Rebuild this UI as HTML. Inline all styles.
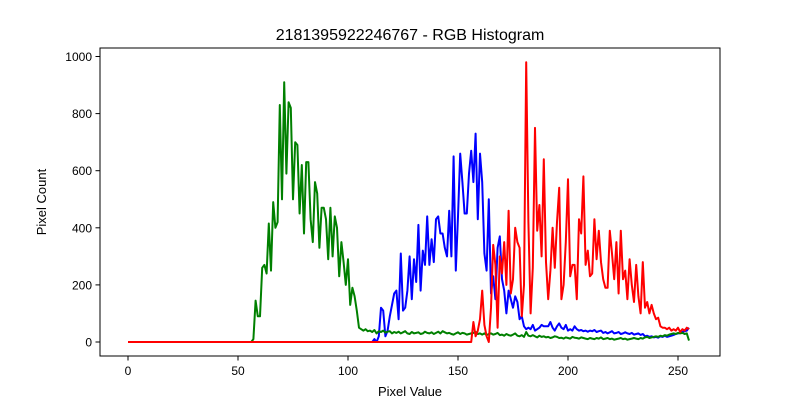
<!DOCTYPE html>
<html><head><meta charset="utf-8"><style>
body{margin:0;background:#fff}
svg{display:block;font-family:"Liberation Sans","DejaVu Sans",sans-serif}
</style></head><body>
<svg id="chart" width="800" height="400">
<rect width="800" height="400" fill="#fff"/>
<text x="410" y="40" text-anchor="middle" font-size="16">2181395922246767 - RGB Histogram</text>
<g id="plot"></g>
<rect x="100" y="48" width="620" height="308" fill="none" stroke="#000" stroke-width="1"/>
<text x="410" y="396" text-anchor="middle" font-size="13">Pixel Value</text>
<text x="46" y="202" text-anchor="middle" font-size="13" transform="rotate(-90 46 202)">Pixel Count</text>
</svg>
<script>
const xTicks=[0,50,100,150,200,250];
const yTicks=[0,200,400,600,800,1000];
const greenStart=57;
const greenVals=[10,145,90,90,260,270,240,415,250,490,400,420,830,500,910,590,840,820,500,700,690,450,620,380,630,630,430,350,560,520,330,470,470,430,290,470,300,440,400,230,350,280,200,290,130,190,160,110,50,45,40,45,38,40,
35,42,30,38,35,40,33,36,38,30,35,32,36,30,34,38,30,28,35,30,
32,34,28,30,36,32,30,34,28,32,36,30,38,34,30,32,28,26,30,34,
28,32,30,26,28,30,32,35,28,30,26,30,24,28,30,26,28,32,24,26,
22,28,24,22,26,30,22,20,24,18,35,22,20,24,20,16,22,18,20,16,
18,14,16,20,18,14,15,12,16,14,12,18,15,14,12,16,14,12,10,14,
12,10,14,12,16,10,12,14,10,12,8,10,12,14,10,12,8,10,12,14,
12,10,14,12,16,18,14,16,18,20,18,22,20,24,22,26,28,30,28,32,
30,32,28,30,5];
const blueStart=111;
const blueVals=[0,10,0,20,120,110,20,40,90,130,170,180,80,310,110,120,180,300,150,290,210,410,180,320,270,440,270,360,280,430,440,380,380,330,300,460,300,650,250,440,660,560,450,450,590,670,560,730,430,660,560,310,250,500,170,230,150,330,370,220,180,100,180,150,120,160,140,80,90,55,
45,50,45,60,40,45,50,60,55,55,55,70,50,40,55,65,50,45,60,40,
45,40,55,45,40,42,38,40,36,40,38,42,35,38,40,32,35,30,34,38,
30,32,35,28,30,34,30,28,32,26,28,30,25,28,20,22,18,20,16,18,
15,20,18,22,18,20,22,25,28,30,32,35,38,40,50];
const redStart=156;
const redVals=[0,70,20,40,80,180,60,20,0,120,340,270,50,300,240,350,200,460,170,220,400,350,330,90,200,980,420,100,260,750,390,480,300,640,280,150,250,400,260,420,540,150,200,350,570,230,270,270,150,430,380,580,270,320,230,240,430,290,390,280,220,190,190,390,310,220,350,170,390,220,250,150,290,200,140,270,160,100,280,120,140,100,130,100,80,85,55,50,50,45,50,40,45,40,50,35,45,40,50,45];
const X=v=>128+2.2*v, Y=c=>342-0.2855*c;
const svg=document.getElementById('plot');
const NS='http://www.w3.org/2000/svg';
function mk(t,a){const e=document.createElementNS(NS,t);for(const k in a)e.setAttribute(k,a[k]);svg.appendChild(e);return e;}
xTicks.forEach(t=>{
 const l=mk('line',{x1:X(t),x2:X(t),y1:356,y2:360.5,stroke:'#000'});
 
 
 const s=mk('text',{x:X(t),y:375,'text-anchor':'middle','font-size':12});s.textContent=t;
 
 
});
yTicks.forEach(t=>{
 const l=mk('line',{x1:95.5,x2:100,y1:Y(t),y2:Y(t),stroke:'#000'});
 
 
 const s=mk('text',{x:92,y:Y(t)+4.5,'text-anchor':'end','font-size':12});s.textContent=t;
 
 
});
function series(start,vals,color,name){
 const pts=[];
 for(let i=0;i<256;i++){const v=i<start?0:(vals[i-start]??vals[vals.length-1]);pts.push(X(i).toFixed(1)+','+Y(v).toFixed(1));}
 const p=mk('polyline',{points:pts.join(' '),fill:'none',stroke:color,'stroke-width':2,'stroke-linejoin':'round'});
 
 
}
series(blueStart,blueVals,'#0000ff','blue-channel-line');
series(greenStart,greenVals,'#008000','green-channel-line');
series(redStart,redVals,'#ff0000','red-channel-line');
</script>
</body></html>
